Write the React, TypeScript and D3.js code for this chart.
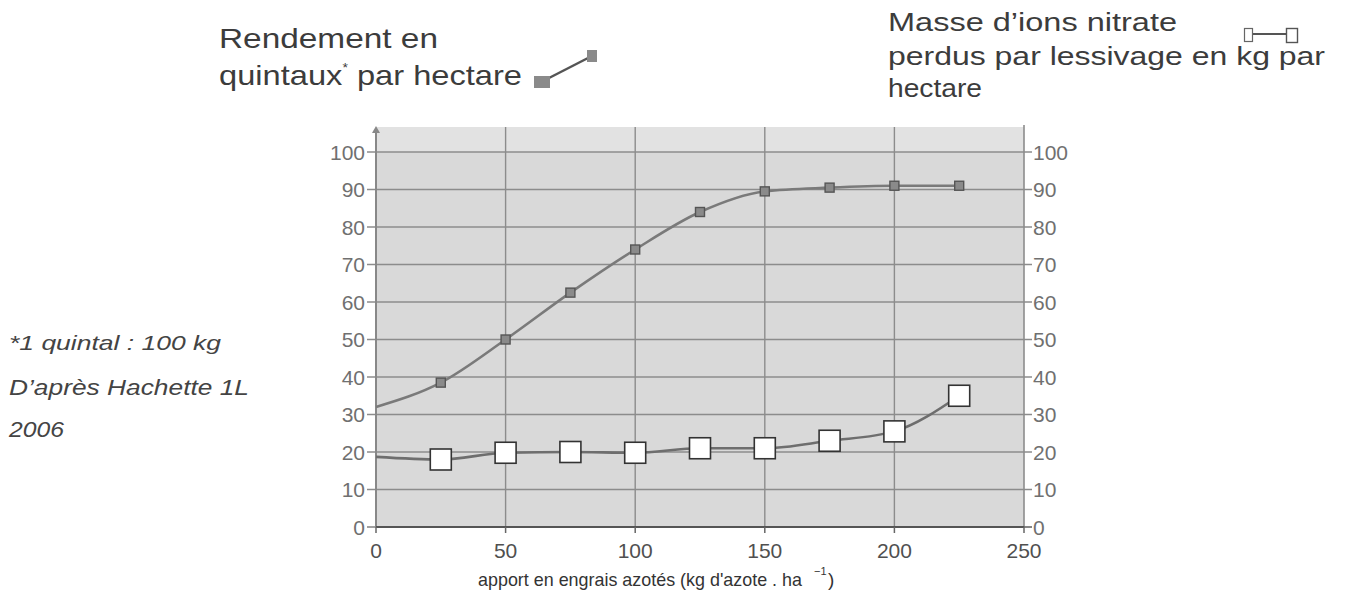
import React from "react";
import * as d3 from "d3";

// apport en engrais azotés (kg/ha)
const doses = [0, 25, 50, 75, 100, 125, 150, 175, 200, 225];
// rendement en quintaux par hectare (axe gauche) ; le point 0 n'a pas de marqueur
const rendement = [32, 38.5, 50, 62.5, 74, 84, 89.5, 90.5, 91, 91];
// nitrate perdu par lessivage kg/ha (axe droit)
const nitrate = [18.7, 18, 19.8, 20, 19.8, 21, 21, 23, 25.5, 35];

const xTicks = [0, 50, 100, 150, 200, 250];
const yTicks = [0, 10, 20, 30, 40, 50, 60, 70, 80, 90, 100];

const W = 1347;
const H = 593;
const FONT = "'Liberation Sans', Arial, sans-serif";
const ADJ = "spacingAndGlyphs";

export default function App() {
  const x = d3.scaleLinear().domain([0, 250]).range([376, 1024]);
  const y = d3.scaleLinear().domain([0, 100]).range([527, 152]);
  const top = 127;

  const pts = doses.map((d, i) => ({ d, r: rendement[i], n: nitrate[i] }));
  const lineR = d3
    .line<any>()
    .x((p) => x(p.d))
    .y((p) => y(p.r))
    .curve(d3.curveMonotoneX);
  const lineN = d3
    .line<any>()
    .x((p) => x(p.d))
    .y((p) => y(p.n))
    .curve(d3.curveMonotoneX);
  const marked = pts.filter((p) => p.d > 0);

  return (
    <svg width={W} height={H} style={{ display: "block", position: "absolute", left: 0, top: 0, background: "#fff" }}>
      {/* fond du graphique */}
      <rect x={x(0)} y={top} width={x(250) - x(0)} height={y(0) - top} fill="#d9d9d9" />
      <rect x={x(0)} y={top} width={x(250) - x(0)} height={y(100) - top} fill="#e2e2e2" />

      {/* grille */}
      {yTicks.filter((t) => t > 0).map((t) => (
        <line key={"h" + t} x1={x(0) - 9} x2={x(250) + 8} y1={y(t)} y2={y(t)} stroke="#8c8c8c" strokeWidth={1.6} />
      ))}
      {xTicks.filter((t) => t > 0 && t < 250).map((t) => (
        <line key={"v" + t} x1={x(t)} x2={x(t)} y1={top} y2={y(0)} stroke="#8c8c8c" strokeWidth={1.4} />
      ))}
      {/* axe droit */}
      <line x1={x(250)} x2={x(250)} y1={top - 2} y2={y(0)} stroke="#8c8c8c" strokeWidth={1.6} />
      <line x1={x(250)} x2={x(250) + 8} y1={y(0)} y2={y(0)} stroke="#666" strokeWidth={1.6} />
      {/* axe gauche avec flèche */}
      <line x1={x(0)} x2={x(0)} y1={top + 2} y2={y(0)} stroke="#888" strokeWidth={2} />
      <path d={`M${x(0) - 4},${top + 6}L${x(0)},${top - 1}L${x(0) + 4},${top + 6}Z`} fill="#888" />
      <line x1={x(0) - 9} x2={x(0)} y1={y(0)} y2={y(0)} stroke="#888" strokeWidth={1.6} />
      {/* axe des abscisses */}
      <line x1={x(0)} x2={x(250)} y1={y(0)} y2={y(0)} stroke="#555" strokeWidth={2} />
      {xTicks.map((t) => (
        <line key={"xt" + t} x1={x(t)} x2={x(t)} y1={y(0)} y2={y(0) + 6} stroke="#666" strokeWidth={1.5} />
      ))}

      {/* graduations */}
      {yTicks.map((t) => (
        <text key={"yl" + t} x={x(0) - 11} y={y(t)} dy="0.36em" textAnchor="end" fontFamily={FONT} fontSize={21} fill="#707070">
          {t}
        </text>
      ))}
      {yTicks.map((t) => (
        <text key={"yr" + t} x={x(250) + 9} y={y(t)} dy="0.36em" textAnchor="start" fontFamily={FONT} fontSize={21} fill="#707070">
          {t}
        </text>
      ))}
      {xTicks.map((t) => (
        <text key={"xl" + t} x={x(t)} y={558} textAnchor="middle" fontFamily={FONT} fontSize={21} fill="#505050">
          {t}
        </text>
      ))}
      <text x={478} y={586} textLength={324} lengthAdjust={ADJ} fontFamily={FONT} fontSize={18.5} fill="#333">
        apport en engrais azotés (kg d'azote . ha
      </text>
      <text x={814} y={575} fontFamily={FONT} fontSize={11} fill="#333">
        −1
      </text>
      <text x={828} y={586} fontFamily={FONT} fontSize={19} fill="#333">
        )
      </text>

      {/* courbes */}
      <path d={lineR(pts) || ""} fill="none" stroke="#7a7a7a" strokeWidth={2.6} />
      <path d={lineN(pts) || ""} fill="none" stroke="#6e6e6e" strokeWidth={2.6} />
      {marked.map((p) => (
        <rect key={"mr" + p.d} x={x(p.d) - 4.5} y={y(p.r) - 4.5} width={9} height={9} fill="#8a8a8a" stroke="#555" strokeWidth={1.4} />
      ))}
      {marked.map((p) => (
        <rect key={"mn" + p.d} x={x(p.d) - 10.5} y={y(p.n) - 10.5} width={21} height={21} fill="#fff" stroke="#333" strokeWidth={1.6} />
      ))}

      {/* légende rendement */}
      <text x={219} y={48} textLength={219} lengthAdjust={ADJ} fontFamily={FONT} fontSize={28} fill="#3c3c3c">
        Rendement  en
      </text>
      <text x={219} y={85} textLength={303} lengthAdjust={ADJ} fontFamily={FONT} fontSize={28} fill="#3c3c3c">
        quintaux<tspan dy={-13} fontSize={12}>*</tspan>
        <tspan dy={13}> par hectare</tspan>
      </text>
      <line x1={549} y1={78} x2={588} y2={58} stroke="#555" strokeWidth={2.5} />
      <rect x={534} y={76} width={16} height={12} fill="#8a8a8a" />
      <rect x={587} y={50} width={10} height={12} fill="#8a8a8a" />

      {/* légende nitrate */}
      <text x={888} y={31} textLength={289} lengthAdjust={ADJ} fontFamily={FONT} fontSize={26} fill="#3c3c3c">
        Masse d’ions nitrate
      </text>
      <text x={888} y={65} textLength={437} lengthAdjust={ADJ} fontFamily={FONT} fontSize={26} fill="#3c3c3c">
        perdus par lessivage en kg par
      </text>
      <text x={888} y={97} textLength={94} lengthAdjust={ADJ} fontFamily={FONT} fontSize={26} fill="#3c3c3c">
        hectare
      </text>
      <line x1={1253} y1={34} x2={1286} y2={34} stroke="#555" strokeWidth={1.8} />
      <rect x={1244.5} y={28.5} width={8} height={13} fill="#fff" stroke="#666" strokeWidth={1.2} />
      <rect x={1286.5} y={28.5} width={11} height={14} fill="#fff" stroke="#555" strokeWidth={1.4} />

      {/* notes */}
      <text x={9} y={350} textLength={212} lengthAdjust={ADJ} fontFamily={FONT} fontSize={21} fontStyle="italic" fill="#444">
        *1 quintal : 100 kg
      </text>
      <text x={9} y={395} textLength={240} lengthAdjust={ADJ} fontFamily={FONT} fontSize={22} fontStyle="italic" fill="#444">
        D’après Hachette 1L
      </text>
      <text x={9} y={437} textLength={55} lengthAdjust={ADJ} fontFamily={FONT} fontSize={22} fontStyle="italic" fill="#444">
        2006
      </text>
    </svg>
  );
}
